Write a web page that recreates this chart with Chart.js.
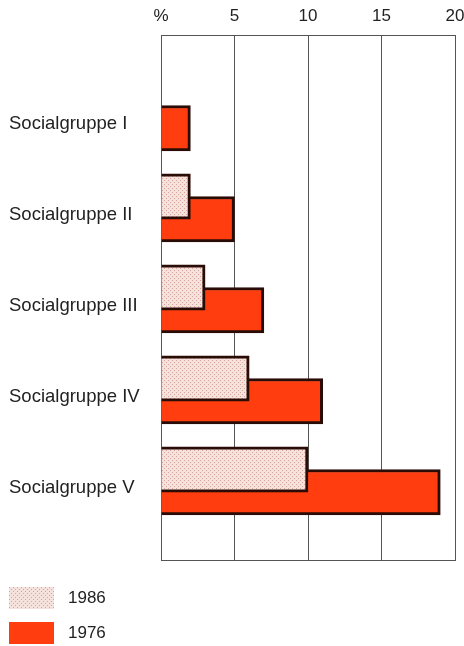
<!DOCTYPE html>
<html>
<head>
<meta charset="utf-8">
<script src="https://cdn.jsdelivr.net/npm/chart.js@4"></script>
<style>
    body { margin: 0; background: #fff; }
    #wrap { position: relative; width: 464px; height: 646px; }
    #legend { position: absolute; left: 9px; top: 586px; font: 17px "Liberation Sans", Arial, sans-serif; color: #222; }
    .item { display: flex; align-items: center; height: 23px; margin-bottom: 12px; }
    .box { width: 45px; height: 22px; margin-right: 14px; }
</style>
</head>
<body>
<div id="wrap">
    <canvas id="myChart" width="464" height="646"></canvas>
    <div id="legend"></div>
</div>
<script>
var categories = ['Socialgruppe I', 'Socialgruppe II', 'Socialgruppe III', 'Socialgruppe IV', 'Socialgruppe V'];
var seriesNames = ['1986', '1976'];
var values1986 = [null, 2, 3, 6, 10];
var values1976 = [2, 5, 7, 11, 19];
var xTickStep = 5;

var chart;
var fontFamily = '"Liberation Sans", Arial, sans-serif';
var textColor = '#222';
var lineColor = '#555';

// Punteado rosado para la serie 1986
var pc = document.createElement('canvas');
pc.width = 4;
pc.height = 4;
var pctx = pc.getContext('2d');
pctx.fillStyle = '#f5e2dc';
pctx.fillRect(0, 0, 4, 4);
pctx.fillStyle = '#d6a398';
pctx.fillRect(0, 0, 1, 1);
pctx.fillRect(2, 2, 1, 1);
var dots = pctx.createPattern(pc, 'repeat');

var red = '#ff3d0f';
var fills = [dots, red];

var ctx = document.getElementById('myChart').getContext('2d');
chart = new Chart(ctx, {
    type: 'bar',
    data: {
        datasets: [{
            label: seriesNames[0],
            data: values1986.map((v, i) => ({ x: v, y: i + 1 })),
            backgroundColor: dots,
            borderColor: '#2a0c06',
            borderWidth: 3,
            categoryPercentage: 0.5,
            barPercentage: 2
        }, {
            label: seriesNames[1],
            data: values1976.map((v, i) => ({ x: v, y: i + 1 })),
            backgroundColor: red,
            borderColor: '#2a0c06',
            borderWidth: 3,
            categoryPercentage: 0.5,
            barPercentage: 2
        }]
    },
    options: {
        indexAxis: 'y',
        responsive: false,
        animation: false,
        layout: { padding: { left: 9, top: 0, right: 0, bottom: 86 } },
        plugins: {
            legend: { display: false },
            tooltip: { enabled: false }
        },
        scales: {
            x: {
                type: 'linear',
                position: 'top',
                min: 0,
                max: 20,
                afterFit: s => { s.height = 35; s.paddingRight = 9; },
                ticks: {
                    stepSize: xTickStep,
                    padding: 8,
                    color: textColor,
                    font: { family: fontFamily, size: 17 },
                    callback: v => v === 0 ? '%' : v
                },
                grid: { color: lineColor, drawTicks: false },
                border: { display: true, color: lineColor }
            },
            xb: {
                type: 'linear',
                position: 'bottom',
                min: 0,
                max: 20,
                afterFit: s => { s.height = 0; },
                ticks: { display: false },
                grid: { display: false },
                border: { display: true, color: lineColor }
            },
            y: {
                type: 'linear',
                reverse: true,
                offset: false,
                grace: 0,
                min: 0.1,
                max: 5.87,
                afterBuildTicks: s => { s.ticks = categories.map((c, i) => ({ value: i + 1 })); },
                afterFit: s => { s.width = 152; },
                ticks: {
                    crossAlign: 'far',
                    labelOffset: 7,
                    color: textColor,
                    font: { family: fontFamily, size: 18.5 },
                    callback: v => categories[v - 1]
                },
                grid: { display: false, offset: false },
                border: { display: true, color: lineColor }
            }
        }
    }
});

// Leyenda vertical abajo a la izquierda
var legend = document.getElementById('legend');
seriesNames.forEach(function(name, i) {
    var item = document.createElement('div');
    item.className = 'item';
    var box = document.createElement('div');
    box.className = 'box';
    if (i === 0) {
        box.style.backgroundImage = 'url(' + pc.toDataURL() + ')';
    } else {
        box.style.background = fills[i];
    }
    var label = document.createElement('span');
    label.innerText = name;
    item.appendChild(box);
    item.appendChild(label);
    legend.appendChild(item);
});
</script>
</body>
</html>
